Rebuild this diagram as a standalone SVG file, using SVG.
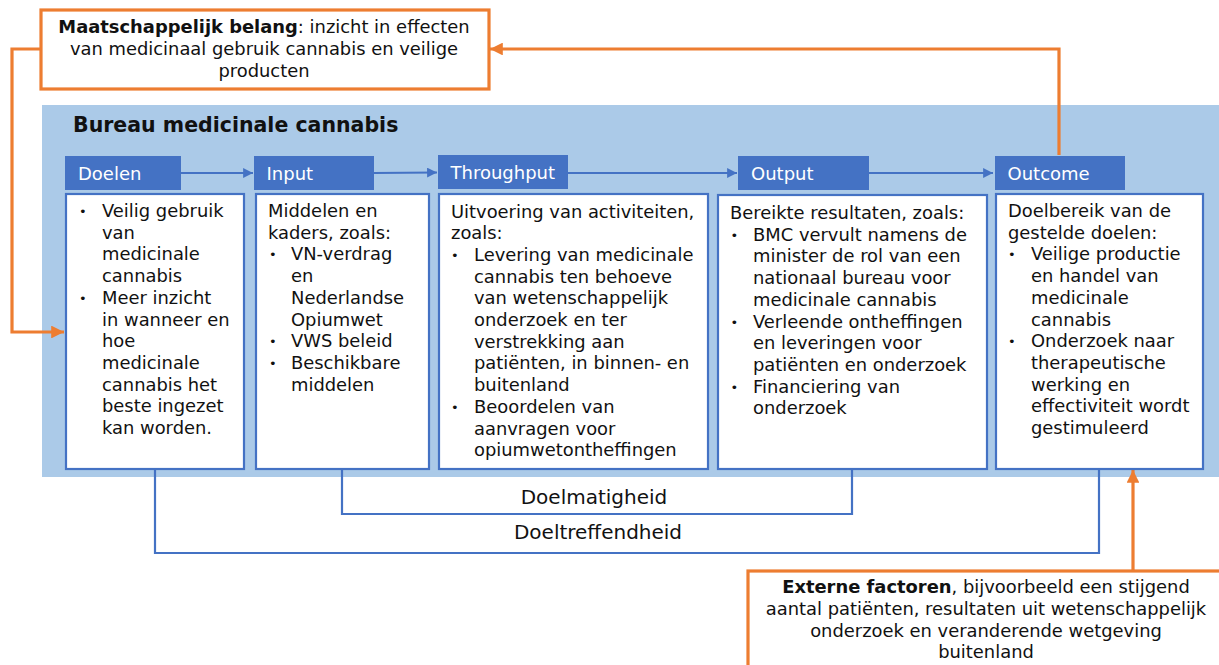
<svg xmlns="http://www.w3.org/2000/svg" width="1219" height="665" viewBox="0 0 1219 665">
<defs>
<style>
.t{font-family:"DejaVu Sans",Verdana,sans-serif;font-size:17.9px;fill:#111}
.b{font-weight:bold}
.tab{fill:#4472C4}
.tabt{font-family:"DejaVu Sans",Verdana,sans-serif;font-size:18px;fill:#fff}
.box{fill:#fff;stroke:#4472C4;stroke-width:2.2}
.obox{fill:#fff;stroke:#ED7D31;stroke-width:3.2}
.bl{fill:none;stroke:#4472C4;stroke-width:2.2}
.or{fill:none;stroke:#ED7D31;stroke-width:3.2}
.bu{font-size:13px}
.lab{font-family:"DejaVu Sans",Verdana,sans-serif;font-size:20px;fill:#111}
</style>
<marker id="ab" viewBox="0 0 10 10" refX="10" refY="5" markerWidth="4.5" markerHeight="4.5" orient="auto" markerUnits="strokeWidth">
<path d="M0,0 L10,5 L0,10 z" fill="#4472C4"/>
</marker>
<marker id="ao" viewBox="0 0 10 10" refX="10" refY="5" markerWidth="4" markerHeight="4" orient="auto" markerUnits="strokeWidth">
<path d="M0,0 L10,5 L0,10 z" fill="#ED7D31"/>
</marker>
</defs>
<rect width="1219" height="665" fill="#fff"/>

<g id="node-bureau">
<rect x="42" y="105" width="1177" height="372" fill="#ABCAE8"/>
<text class="t b" x="73" y="132" style="font-size:20.5px">Bureau medicinale cannabis</text>
</g>

<g id="node-maatschappelijk">
<rect class="obox" x="41" y="10" width="448" height="79"/>
<text class="t" text-anchor="middle"><tspan x="264" y="33"><tspan class="b">Maatschappelijk belang</tspan>: inzicht in effecten</tspan><tspan x="264" y="55">van medicinaal gebruik cannabis en veilige</tspan><tspan x="264" y="77">producten</tspan></text>
</g>

<g id="node-externe">
<rect class="obox" x="748" y="571" width="480" height="110"/>
<text class="t" text-anchor="middle"><tspan x="986" y="593"><tspan class="b">Externe factoren</tspan>, bijvoorbeeld een stijgend</tspan><tspan x="986" y="615">aantal patiënten, resultaten uit wetenschappelijk</tspan><tspan x="986" y="637">onderzoek en veranderende wetgeving</tspan><tspan x="986" y="658">buitenland</tspan></text>
</g>

<g id="connectors">
<path class="bl" d="M181,173 H253" marker-end="url(#ab)"/>
<path class="bl" d="M374,173 L437,172.5" marker-end="url(#ab)"/>
<path class="bl" d="M568,173 H737" marker-end="url(#ab)"/>
<path class="bl" d="M869,173 H993" marker-end="url(#ab)"/>
<path class="bl" d="M342,469 V514 H852 V469"/>
<path class="bl" d="M155,469 V553 H1099 V469"/>
<path class="or" d="M1059,155 V49 H490" marker-end="url(#ao)"/>
<path class="or" d="M41,49 H12 V332 H64" marker-end="url(#ao)"/>
<path class="or" d="M1133,571 V470" marker-end="url(#ao)"/>
</g>

<g id="node-doelen">
<rect class="tab" x="65" y="156" width="116" height="34"/>
<text class="tabt" x="78" y="180">Doelen</text>
<rect class="box" x="66" y="194" width="178" height="275"/>
<text class="t"><tspan class="bu" x="79" y="216">•</tspan><tspan x="102" y="217">Veilig gebruik</tspan><tspan x="102" y="238.7">van</tspan><tspan x="102" y="260.4">medicinale</tspan><tspan x="102" y="282.1">cannabis</tspan><tspan class="bu" x="79" y="302.8">•</tspan><tspan x="102" y="303.8">Meer inzicht</tspan><tspan x="102" y="325.5">in wanneer en</tspan><tspan x="102" y="347.2">hoe</tspan><tspan x="102" y="368.9">medicinale</tspan><tspan x="102" y="390.6">cannabis het</tspan><tspan x="102" y="412.3">beste ingezet</tspan><tspan x="102" y="434">kan worden.</tspan></text>
</g>

<g id="node-input">
<rect class="tab" x="254" y="156" width="120" height="34"/>
<text class="tabt" x="266.5" y="180">Input</text>
<rect class="box" x="256" y="194" width="173" height="275"/>
<text class="t"><tspan x="268" y="217">Middelen en</tspan><tspan x="268" y="238.7">kaders, zoals:</tspan><tspan class="bu" x="269" y="259.4">•</tspan><tspan x="291" y="260.4">VN-verdrag</tspan><tspan x="291" y="282.1">en</tspan><tspan x="291" y="303.8">Nederlandse</tspan><tspan x="291" y="325.5">Opiumwet</tspan><tspan class="bu" x="269" y="346.2">•</tspan><tspan x="291" y="347.2">VWS beleid</tspan><tspan class="bu" x="269" y="367.9">•</tspan><tspan x="291" y="368.9">Beschikbare</tspan><tspan x="291" y="390.6">middelen</tspan></text>
</g>

<g id="node-throughput">
<rect class="tab" x="438" y="155" width="130" height="34"/>
<text class="tabt" x="450.5" y="179">Throughput</text>
<rect class="box" x="439" y="194" width="269" height="275"/>
<text class="t"><tspan x="451" y="217.5">Uitvoering van activiteiten,</tspan><tspan x="451" y="239.2">zoals:</tspan><tspan class="bu" x="451" y="259.9">•</tspan><tspan x="474" y="260.9">Levering van medicinale</tspan><tspan x="474" y="282.6">cannabis ten behoeve</tspan><tspan x="474" y="304.3">van wetenschappelijk</tspan><tspan x="474" y="326">onderzoek en ter</tspan><tspan x="474" y="347.7">verstrekking aan</tspan><tspan x="474" y="369.4">patiënten, in binnen- en</tspan><tspan x="474" y="391.1">buitenland</tspan><tspan class="bu" x="451" y="411.8">•</tspan><tspan x="474" y="412.8">Beoordelen van</tspan><tspan x="474" y="434.5">aanvragen voor</tspan><tspan x="474" y="456.2">opiumwetontheffingen</tspan></text>
</g>

<g id="node-output">
<rect class="tab" x="738" y="156" width="131" height="34"/>
<text class="tabt" x="751" y="180">Output</text>
<rect class="box" x="718" y="195" width="269" height="274"/>
<text class="t"><tspan x="730" y="219">Bereikte resultaten, zoals:</tspan><tspan class="bu" x="730.5" y="239.7">•</tspan><tspan x="753" y="240.7">BMC vervult namens de</tspan><tspan x="753" y="262.4">minister de rol van een</tspan><tspan x="753" y="284.1">nationaal bureau voor</tspan><tspan x="753" y="305.8">medicinale cannabis</tspan><tspan class="bu" x="730.5" y="326.5">•</tspan><tspan x="753" y="327.5">Verleende ontheffingen</tspan><tspan x="753" y="349.2">en leveringen voor</tspan><tspan x="753" y="370.9">patiënten en onderzoek</tspan><tspan class="bu" x="730.5" y="391.6">•</tspan><tspan x="753" y="392.6">Financiering van</tspan><tspan x="753" y="414.3">onderzoek</tspan></text>
</g>

<g id="node-outcome">
<rect class="tab" x="995" y="156" width="130" height="34"/>
<text class="tabt" x="1007.5" y="180">Outcome</text>
<rect class="box" x="996" y="194" width="207" height="275"/>
<text class="t"><tspan x="1008" y="217">Doelbereik van de</tspan><tspan x="1008" y="238.7">gestelde doelen:</tspan><tspan class="bu" x="1008" y="259.4">•</tspan><tspan x="1031" y="260.4">Veilige productie</tspan><tspan x="1031" y="282.1">en handel van</tspan><tspan x="1031" y="303.8">medicinale</tspan><tspan x="1031" y="325.5">cannabis</tspan><tspan class="bu" x="1008" y="346.2">•</tspan><tspan x="1031" y="347.2">Onderzoek naar</tspan><tspan x="1031" y="368.9">therapeutische</tspan><tspan x="1031" y="390.6">werking en</tspan><tspan x="1031" y="412.3">effectiviteit wordt</tspan><tspan x="1031" y="434">gestimuleerd</tspan></text>
</g>

<g id="labels">
<text class="lab" x="594" y="504" text-anchor="middle">Doelmatigheid</text>
<text class="lab" x="598" y="538.5" text-anchor="middle">Doeltreffendheid</text>
</g>
</svg>
